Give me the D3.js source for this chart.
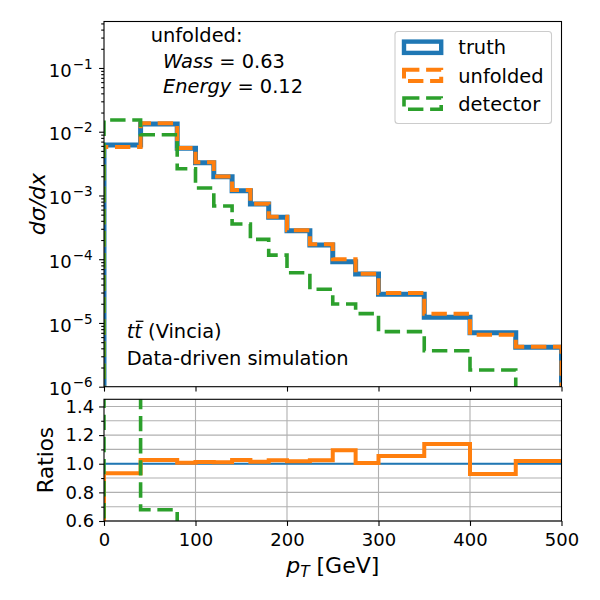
<!DOCTYPE html>
<html>
<head>
<meta charset="utf-8">
<script src="https://cdn.jsdelivr.net/npm/d3@7"></script>
<style>
  body { margin: 0; background: #fff; }
  text { font-family: "DejaVu Sans"; fill: #000; }
</style>
</head>
<body>
<script>
// Bin edges in pT [GeV]
const binEdges = [0, 40, 80, 100, 120, 140, 160, 180, 200, 225, 250, 275, 300, 350, 400, 450, 500]

// d sigma / dx per bin
const truth = [6.19e-3, 1.321e-2, 5.50e-3, 3.27e-3, 1.97e-3, 1.19e-3, 7.34e-4, 4.54e-4, 2.80e-4, 1.67e-4, 9.14e-5, 5.86e-5, 2.81e-5, 1.23e-5, 7.03e-6, 4.15e-6]
const unfolded = [5.78e-3, 1.355e-2, 5.54e-3, 3.31e-3, 1.99e-3, 1.22e-3, 7.44e-4, 4.65e-4, 2.85e-4, 1.71e-4, 1.0e-4, 5.89e-5, 2.96e-5, 1.40e-5, 6.53e-6, 4.23e-6]
const detector = [1.528e-2, 8.97e-3, 2.63e-3, 1.31e-3, 6.84e-4, 3.56e-4, 2.05e-4, 1.16e-4, 6.14e-5, 3.37e-5, 1.98e-5, 1.40e-5, 7.30e-6, 3.67e-6, 1.83e-6, 0]

// Ticks
const xTicks = [0, 100, 200, 300, 400, 500]
const xGrid = [100, 200, 300, 400]
const logTicks = [1e-6, 1e-5, 1e-4, 1e-3, 1e-2, 1e-1]
const ratioTicks = [0.6, 0.8, 1.0, 1.2, 1.4]
const ratioMinor = [0.7, 0.9, 1.1, 1.3]
const ratioGrid = [0.6, 0.7, 0.8, 0.9, 1.0, 1.1, 1.2, 1.3, 1.4]

const seriesNames = ["truth", "unfolded", "detector"]
const colors = ["#1f77b4", "#ff7f0e", "#2ca02c"]

const w = 600
const h = 600
const left = 104, right = 561.5
const mainTop = 21.5, mainBottom = 386.7
const ratioTop = 399.3, ratioBottom = 521

const svg = d3.select("body").append("svg")
  .attr("width", w)
  .attr("height", h)

const x = d3.scaleLinear().domain([0, 500]).range([left, right])
const yMain = d3.scaleLog().domain([1e-6, 0.536]).range([mainBottom, mainTop])
const yRatio = d3.scaleLinear().domain([0.6, 1.45]).range([ratioBottom, ratioTop])

// clip areas
const defs = svg.append("defs")
defs.append("clipPath").attr("id", "clipMain").append("rect")
  .attr("x", left).attr("y", mainTop).attr("width", right - left).attr("height", mainBottom - mainTop)
defs.append("clipPath").attr("id", "clipRatio").append("rect")
  .attr("x", left).attr("y", ratioTop).attr("width", right - left).attr("height", ratioBottom - ratioTop)

// step outline like hist(histtype="step"), baseline far below the axis
const stepPoints = (values, base, closeRight = true) => {
  const pts = [[binEdges[0], base]]
  values.forEach((v, i) => {
    pts.push([binEdges[i], v])
    pts.push([binEdges[i + 1], v])
  })
  if (closeRight) pts.push([binEdges[binEdges.length - 1], base])
  return pts
}

const lineMain = d3.line()
  .x(d => x(d[0]))
  .y(d => yMain(Math.max(d[1], 1e-9)))
const lineRatio = d3.line()
  .x(d => x(d[0]))
  .y(d => yRatio(d[1]))

// ---------- main panel ----------
const main = svg.append("g").attr("clip-path", "url(#clipMain)")

main.append("path")
  .attr("d", lineMain(stepPoints(truth, 1e-9)))
  .attr("fill", "none").attr("stroke", colors[0]).attr("stroke-width", 5)

main.append("path")
  .attr("d", lineMain(stepPoints(unfolded, 1e-9)))
  .attr("fill", "none").attr("stroke", colors[1]).attr("stroke-width", 4)
  .attr("stroke-dasharray", "15.4,6.7")

main.append("path")
  .attr("d", lineMain(stepPoints(detector, 1e-9)))
  .attr("fill", "none").attr("stroke", colors[2]).attr("stroke-width", 3.6)
  .attr("stroke-dasharray", "15.4,6.7")

// ---------- ratio panel ----------
const gridG = svg.append("g")
gridG.selectAll(".gx").data(xGrid).enter().append("line")
  .attr("x1", d => x(d)).attr("x2", d => x(d))
  .attr("y1", ratioTop).attr("y2", ratioBottom)
  .attr("stroke", "#b0b0b0").attr("stroke-width", 1.1)
gridG.selectAll(".gy").data(ratioGrid).enter().append("line")
  .attr("x1", left).attr("x2", right)
  .attr("y1", d => yRatio(d)).attr("y2", d => yRatio(d))
  .attr("stroke", "#b0b0b0").attr("stroke-width", 1.1)

const ratio = svg.append("g").attr("clip-path", "url(#clipRatio)")
const truthRatio = truth.map(v => v / v)
const unfoldedRatio = unfolded.map((v, i) => v / truth[i])
const detectorRatio = detector.map((v, i) => v / truth[i])

ratio.append("path")
  .attr("d", lineRatio(stepPoints(truthRatio, 0, false)))
  .attr("fill", "none").attr("stroke", colors[0]).attr("stroke-width", 2.2)
ratio.append("path")
  .attr("d", lineRatio(stepPoints(unfoldedRatio, 0, false)))
  .attr("fill", "none").attr("stroke", colors[1]).attr("stroke-width", 4)
ratio.append("path")
  .attr("d", lineRatio(stepPoints(detectorRatio, 0)))
  .attr("fill", "none").attr("stroke", colors[2]).attr("stroke-width", 3.6)
  .attr("stroke-dasharray", "15.4,6.7")

// ---------- axes ----------
const styleAxis = (g, fs) => {
  g.select(".domain").remove()
  g.selectAll(".tick line").attr("stroke", "#000").attr("stroke-width", 1.1)
  g.selectAll(".tick text").attr("font-family", "DejaVu Sans").attr("font-size", fs).attr("fill", "#000")
  g.attr("font-family", null).attr("font-size", null)
}

// main x ticks (no labels)
svg.append("g").attr("transform", `translate(0,${mainBottom})`)
  .call(d3.axisBottom(x).tickValues(xTicks).tickSize(4.9).tickFormat(""))
  .call(g => styleAxis(g, 18))

// main log y: minor then major
const minorLog = []
logTicks.forEach(t => { [2, 3, 4, 5, 6, 7, 8, 9].forEach(m => { if (t * m < 0.536) minorLog.push(t * m) }) })
svg.append("g").attr("transform", `translate(${left},0)`)
  .call(d3.axisLeft(yMain).tickValues(minorLog).tickSize(2.8).tickFormat(""))
  .call(g => styleAxis(g, 18))
svg.append("g").attr("transform", `translate(${left},0)`)
  .call(d3.axisLeft(yMain).tickValues(logTicks).tickSize(4.9).tickPadding(6.5))
  .call(g => styleAxis(g, 18))
  .call(g => g.selectAll(".tick text").each(function(d) {
    const t = d3.select(this).text(null).attr("dy", "0.45em")
    t.append("tspan").text("10")
    t.append("tspan").attr("dy", -8).attr("dx", 1).attr("font-size", 13.5)
      .text("\u2212" + Math.round(-Math.log10(d)))
  }))

// ratio axes
svg.append("g").attr("transform", `translate(0,${ratioBottom})`)
  .call(d3.axisBottom(x).tickValues(xTicks).tickSize(4.9).tickPadding(7))
  .call(g => styleAxis(g, 18))
svg.append("g").attr("transform", `translate(${left},0)`)
  .call(d3.axisLeft(yRatio).tickValues(ratioMinor).tickSize(2.8).tickFormat(""))
  .call(g => styleAxis(g, 18))
svg.append("g").attr("transform", `translate(${left},0)`)
  .call(d3.axisLeft(yRatio).tickValues(ratioTicks).tickSize(4.9).tickPadding(4.9).tickFormat(d3.format(".1f")))
  .call(g => styleAxis(g, 18))

// spines
svg.append("rect").attr("x", left).attr("y", mainTop).attr("width", right - left).attr("height", mainBottom - mainTop)
  .attr("fill", "none").attr("stroke", "#000").attr("stroke-width", 1.1)
svg.append("rect").attr("x", left).attr("y", ratioTop).attr("width", right - left).attr("height", ratioBottom - ratioTop)
  .attr("fill", "none").attr("stroke", "#000").attr("stroke-width", 1.1)

// axis labels
svg.append("text")
  .attr("transform", `translate(44.5,${(mainTop + mainBottom) / 2}) rotate(-90)`)
  .attr("text-anchor", "middle").attr("font-size", 22).attr("font-style", "italic")
  .text("d\u03c3/dx")

svg.append("text")
  .attr("transform", `translate(53,${(ratioTop + ratioBottom) / 2}) rotate(-90)`)
  .attr("text-anchor", "middle").attr("font-size", 21.5)
  .text("Ratios")

const xlab = svg.append("text")
  .attr("x", (left + right) / 2).attr("y", 573)
  .attr("text-anchor", "middle").attr("font-size", 22)
xlab.append("tspan").attr("font-style", "italic").text("p")
xlab.append("tspan").attr("font-style", "italic").attr("font-size", 15.4).attr("dy", 4).text("T")
xlab.append("tspan").attr("dy", -4).text(" [GeV]")

// annotation
svg.append("text").attr("x", 150.7).attr("y", 42.3).attr("font-size", 19.4).text("unfolded:")
const wassText = svg.append("text").attr("x", 163).attr("y", 68.3).attr("font-size", 19.4)
wassText.append("tspan").attr("font-style", "italic").text("Wass")
wassText.append("tspan").text(" = 0.63")
const energyText = svg.append("text").attr("x", 163).attr("y", 93.3).attr("font-size", 19.4)
energyText.append("tspan").attr("font-style", "italic").text("Energy")
energyText.append("tspan").text(" = 0.12")

const ttText = svg.append("text").attr("x", 126.7).attr("y", 338.3).attr("font-size", 19.4)
ttText.append("tspan").attr("font-style", "italic").text("tt")
ttText.append("tspan").text(" (Vincia)")
// bar over the second t
const ttNode = ttText.node()
const t1 = ttNode.getSubStringLength(0, 1)
const t2 = ttNode.getSubStringLength(1, 1)
svg.append("line")
  .attr("x1", 126.7 + t1 + 1.5).attr("x2", 126.7 + t1 + t2 + 1.5)
  .attr("y1", 338.3 - 17).attr("y2", 338.3 - 17)
  .attr("stroke", "#000").attr("stroke-width", 1.3)

svg.append("text").attr("x", 126.7).attr("y", 365).attr("font-size", 19.4).text("Data-driven simulation")

// legend
const legend = svg.append("g").attr("id", "legend")
legend.append("rect")
  .attr("x", 395).attr("y", 31.5).attr("width", 156.5).attr("height", 92)
  .attr("rx", 3).attr("fill", "#fff").attr("fill-opacity", 0.8)
  .attr("stroke", "#cccccc").attr("stroke-width", 1.1)

const legendItems = legend.selectAll(".item")
  .data(seriesNames)
  .enter()
  .append("g")
  .attr("transform", (d, i) => `translate(0,${47.2 + i * 28.2})`)

legendItems.append("rect")
  .attr("x", 404).attr("y", -5.6).attr("width", 37.2).attr("height", 11.3)
  .attr("fill", "none")
  .attr("stroke", (d, i) => colors[i])
  .attr("stroke-width", (d, i) => i === 0 ? 4.4 : (i === 1 ? 4 : 3.6))
  .attr("stroke-dasharray", (d, i) => i === 0 ? null : "15.4,6.7")

legendItems.append("text")
  .attr("x", 458.3).attr("y", 7.2)
  .attr("font-size", 19.4)
  .text(d => d)
</script>
</body>
</html>
